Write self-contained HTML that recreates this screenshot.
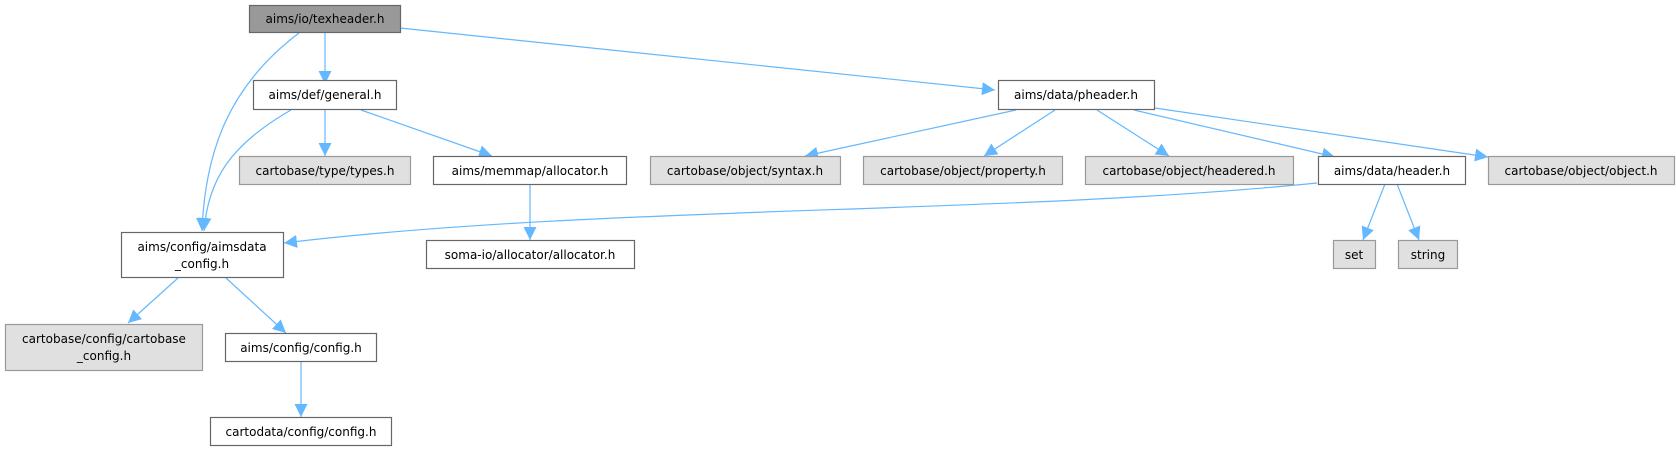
<!DOCTYPE html>
<html><head><meta charset="utf-8"><style>
html,body{margin:0;padding:0;background:#fff;}
svg{display:block;}
text{font-family:"DejaVu Sans","Liberation Sans",sans-serif;font-size:12px;fill:#000;}
</style></head><body>
<svg width="1676" height="451" viewBox="0 0 1676 451" xmlns="http://www.w3.org/2000/svg">
<defs>
<marker id="a" viewBox="0 0 10 10" refX="10" refY="5" markerWidth="13" markerHeight="13" markerUnits="userSpaceOnUse" orient="auto">
<path d="M0,0 L10,5 L0,10 z" fill="#63b8ff"/></marker>
</defs>
<g fill="none" stroke="#63b8ff" stroke-width="1.2" marker-end="url(#a)">
<path d="M325,33 L325,84"/>
<path d="M299,33 C230,85 205,150 202,231"/>
<path d="M400,28 L995,90"/>
<path d="M291,110 C230,145 208,180 204,231"/>
<path d="M325,110 L325,156"/>
<path d="M361,110 L492,156"/>
<path d="M530,184 L530,240"/>
<path d="M1016,110 L805,156"/>
<path d="M1055,110 L984,156"/>
<path d="M1097,110 L1169,156"/>
<path d="M1134,110 L1335,157"/>
<path d="M1155,108 L1488,157"/>
<path d="M1317,183 C1000,215 600,205 284,243"/>
<path d="M1385,184 L1363,240"/>
<path d="M1397,184 L1419,240"/>
<path d="M178,278 L128,323"/>
<path d="M226,278 L286,333"/>
<path d="M301,361 L301,417"/>
</g>
<g stroke-width="1.2">
<rect x="249.5" y="5.5" width="151" height="27" fill="#999" stroke="#666"/>
<rect x="253.5" y="80.5" width="143" height="29" fill="#fff" stroke="#666"/>
<rect x="998.5" y="80.5" width="156" height="29" fill="#fff" stroke="#666"/>
<rect x="239.5" y="156.5" width="171" height="28" fill="#e0e0e0" stroke="#999"/>
<rect x="433.5" y="156.5" width="193" height="28" fill="#fff" stroke="#666"/>
<rect x="650.5" y="156.5" width="190" height="28" fill="#e0e0e0" stroke="#999"/>
<rect x="863.5" y="156.5" width="199" height="28" fill="#e0e0e0" stroke="#999"/>
<rect x="1085.5" y="156.5" width="208" height="28" fill="#e0e0e0" stroke="#999"/>
<rect x="1318.5" y="156.5" width="147" height="28" fill="#fff" stroke="#666"/>
<rect x="1488.5" y="156.5" width="186" height="28" fill="#e0e0e0" stroke="#999"/>
<rect x="121.5" y="232.5" width="162" height="45" fill="#fff" stroke="#666"/>
<rect x="426.5" y="240.5" width="208" height="28" fill="#fff" stroke="#666"/>
<rect x="1333.5" y="240.5" width="42" height="28" fill="#e0e0e0" stroke="#999"/>
<rect x="1398.5" y="240.5" width="59" height="28" fill="#e0e0e0" stroke="#999"/>
<rect x="5.5" y="324.5" width="197" height="46" fill="#e0e0e0" stroke="#999"/>
<rect x="225.5" y="333.5" width="151" height="28" fill="#fff" stroke="#666"/>
<rect x="210.5" y="417.5" width="181" height="28" fill="#fff" stroke="#666"/>
</g>
<g text-anchor="middle">
<text x="325" y="23">aims/io/texheader.h</text>
<text x="325" y="99">aims/def/general.h</text>
<text x="1076" y="99">aims/data/pheader.h</text>
<text x="325" y="175">cartobase/type/types.h</text>
<text x="530" y="175">aims/memmap/allocator.h</text>
<text x="745" y="175">cartobase/object/syntax.h</text>
<text x="963" y="175">cartobase/object/property.h</text>
<text x="1189" y="175">cartobase/object/headered.h</text>
<text x="1392" y="175">aims/data/header.h</text>
<text x="1581" y="175">cartobase/object/object.h</text>
<text x="202" y="251">aims/config/aimsdata</text>
<text x="202" y="268">_config.h</text>
<text x="530" y="259">soma-io/allocator/allocator.h</text>
<text x="1354" y="259">set</text>
<text x="1428" y="259">string</text>
<text x="104" y="343">cartobase/config/cartobase</text>
<text x="104" y="360">_config.h</text>
<text x="301" y="352">aims/config/config.h</text>
<text x="301" y="436">cartodata/config/config.h</text>
</g>
</svg>
</body></html>
